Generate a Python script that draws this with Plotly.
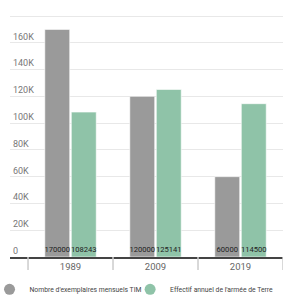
import plotly.graph_objects as go

years = ["1989", "2009", "2019"]
tim_copies = [170000, 120000, 60000]
army_staff = [108243, 125141, 114500]
series_names = ["Nombre d'exemplaires mensuels TIM", "Effectif annuel de l'armée de Terre"]
colors = ["#9a9a9a", "#8fc3a8"]
ytick_vals = [0, 20000, 40000, 60000, 80000, 100000, 120000, 140000, 160000, 180000]
ytick_text = ["0", "20K", "40K", "60K", "80K", "100K", "120K", "140K", "160K", "180K"]

xpos = list(range(len(years)))
boundaries = [p - 0.5 for p in xpos] + [xpos[-1] + 0.5]
xrange = [-0.712, 2.5]

fig = go.Figure()
for name, vals, col in [(series_names[0], tim_copies, colors[0]), (series_names[1], army_staff, colors[1])]:
    fig.add_trace(go.Bar(
        x=xpos, y=vals, name=name, marker=dict(color=col, line=dict(color="rgba(255,255,255,0.6)", width=1)),
        text=[str(v) for v in vals], textposition="inside", insidetextanchor="start",
        textfont=dict(color="#222", size=7.6, family="Roboto"), textangle=0,
        constraintext="none", showlegend=False, hoverinfo="skip",
    ))
legends = ["legend", "legend2"]
for name, col, lg in zip(series_names, colors, legends):
    fig.add_trace(go.Scatter(x=[None], y=[None], mode="markers", name=name, legend=lg,
                             marker=dict(color=col, size=11, symbol="circle")))

for b in boundaries:
    fig.add_shape(type="line", xref="x", yref="paper", x0=b, x1=b, y0=0, y1=-13 / 241,
                  line=dict(color="#ccc", width=1.5))

leg_common = dict(orientation="h", xanchor="left", y=-0.133, yanchor="middle",
                  font=dict(size=6.8, color="#444", family="Roboto"), itemclick=False,
                  itemwidth=30, bgcolor="rgba(0,0,0,0)")
fig.update_layout(
    width=290, height=300,
    margin=dict(l=10, r=7, t=14, b=43, autoexpand=False),
    paper_bgcolor="white", plot_bgcolor="white",
    barmode="group", bargap=0.376, bargroupgap=0.06,
    font=dict(family="Roboto", color="#555"),
    legend=dict(x=-0.075, **leg_common),
    legend2=dict(x=0.440, **leg_common),
    xaxis=dict(
        range=xrange, tickvals=xpos, ticktext=years, ticks="",
        tickfont=dict(size=9.5, color="#666"),
        showline=True, linecolor="#444", linewidth=1.5,
        showgrid=False, zeroline=False,
    ),
    yaxis=dict(
        range=[0, 181494], tickvals=ytick_vals, ticktext=ytick_text,
        ticklabelposition="inside top", tickfont=dict(size=9, color="#777", family="Roboto"),
        showgrid=True, gridcolor="#e8e8e8", gridwidth=1, zeroline=False, ticks="",
    ),
)
fig.write_html("out.html")
